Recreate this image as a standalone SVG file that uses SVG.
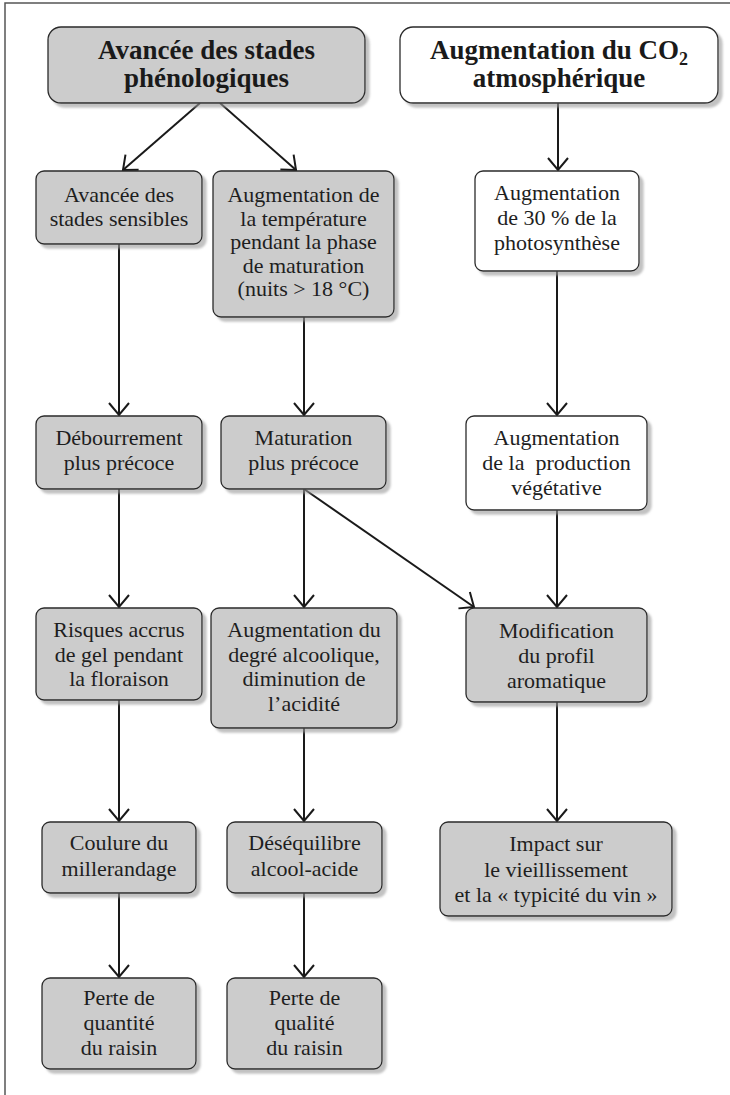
<svg xmlns="http://www.w3.org/2000/svg" width="730" height="1095" viewBox="0 0 730 1095">
<style>
  .box { stroke: #2a2a2a; stroke-width: 1.3; filter: url(#sh); }
  .gray { fill: #cccccc; }
  .white { fill: #ffffff; }
  text { font-family: 'Liberation Serif', 'DejaVu Serif', 'Times New Roman', serif; }
  .t { font-size: 22px; fill: #1e1e1e; text-anchor: middle; }
  .h { font-size: 27px; font-weight: bold; fill: #1a1a1a; text-anchor: middle; }
  .c { stroke: #1a1a1a; stroke-width: 2; fill: none; marker-end: url(#ah); }
</style>
<defs>
  <filter id="sh" x="-10%" y="-10%" width="130%" height="130%">
    <feDropShadow dx="4" dy="4" stdDeviation="1.2" flood-color="#9a9a9a" flood-opacity="0.6"/>
  </filter>
  <marker id="ah" markerUnits="userSpaceOnUse" orient="auto" refX="0" refY="0" markerWidth="30" markerHeight="30" viewBox="-15 -15 30 30" overflow="visible">
    <path d="M-12,-10 L0,0 L-12,10" fill="none" stroke="#1a1a1a" stroke-width="2"/>
  </marker>
</defs>
<rect width="730" height="1095" fill="#ffffff"/>
<path d="M5,1095 V3 H730" fill="none" stroke="#555" stroke-width="1.5"/>

<g id="connectors">
  <line class="c" x1="200" y1="103" x2="123" y2="170"/>
  <line class="c" x1="220" y1="103" x2="296" y2="170"/>
  <line class="c" x1="558" y1="103" x2="558" y2="170"/>
  <line class="c" x1="119" y1="244" x2="119" y2="415"/>
  <line class="c" x1="304" y1="317" x2="304" y2="415"/>
  <line class="c" x1="557" y1="271" x2="557" y2="415"/>
  <line class="c" x1="119" y1="489" x2="119" y2="607"/>
  <line class="c" x1="304" y1="489" x2="304" y2="607"/>
  <line class="c" x1="304" y1="489" x2="474" y2="607"/>
  <line class="c" x1="557" y1="510" x2="557" y2="607"/>
  <line class="c" x1="119" y1="700" x2="119" y2="821"/>
  <line class="c" x1="304" y1="728" x2="304" y2="821"/>
  <line class="c" x1="557" y1="702" x2="557" y2="821"/>
  <line class="c" x1="119" y1="893" x2="119" y2="977"/>
  <line class="c" x1="304" y1="893" x2="304" y2="977"/>
</g>

<g id="h1" font-family="Liberation Serif, DejaVu Serif, serif">
  <rect class="box gray" x="48" y="27" width="317" height="76" rx="13"/>
  <text class="h" x="206.5" y="59" font-family="Liberation Serif, DejaVu Serif, serif">Avancée des stades</text>
  <text class="h" x="206.5" y="87" font-family="Liberation Serif, DejaVu Serif, serif">phénologiques</text>
</g>
<g id="h2">
  <rect class="box white" x="400" y="27" width="318" height="76" rx="13"/>
  <text class="h" x="559" y="59" font-family="Liberation Serif, DejaVu Serif, serif">Augmentation du CO<tspan font-size="18" dy="6">2</tspan></text>
  <text class="h" x="559" y="87" font-family="Liberation Serif, DejaVu Serif, serif">atmosphérique</text>
</g>
<g id="n1">
  <rect class="box gray" x="36" y="171" width="166" height="73" rx="8"/>
  <text class="t" x="119" y="202">Avancée des</text>
  <text class="t" x="119" y="226">stades sensibles</text>
</g>
<g id="n2">
  <rect class="box gray" x="213" y="171" width="181" height="146" rx="8"/>
  <text class="t" x="303.5" y="202">Augmentation de</text>
  <text class="t" x="303.5" y="225.5">la température</text>
  <text class="t" x="303.5" y="249">pendant la phase</text>
  <text class="t" x="303.5" y="272.5">de maturation</text>
  <text class="t" x="303.5" y="296">(nuits &gt; 18 °C)</text>
</g>
<g id="n3">
  <rect class="box white" x="475" y="171" width="164" height="100" rx="8"/>
  <text class="t" x="557" y="200">Augmentation</text>
  <text class="t" x="557" y="225">de 30 % de la</text>
  <text class="t" x="557" y="250">photosynthèse</text>
</g>
<g id="n4">
  <rect class="box gray" x="36" y="416" width="166" height="73" rx="8"/>
  <text class="t" x="119" y="445">Débourrement</text>
  <text class="t" x="119" y="470">plus précoce</text>
</g>
<g id="n5">
  <rect class="box gray" x="221" y="416" width="165" height="73" rx="8"/>
  <text class="t" x="303.5" y="445">Maturation</text>
  <text class="t" x="303.5" y="470">plus précoce</text>
</g>
<g id="n6">
  <rect class="box white" x="466" y="416" width="181" height="94" rx="8"/>
  <text class="t" x="556.5" y="445">Augmentation</text>
  <text class="t" x="556.5" y="470">de la&#160; production</text>
  <text class="t" x="556.5" y="495">végétative</text>
</g>
<g id="n7">
  <rect class="box gray" x="36" y="608" width="166" height="92" rx="8"/>
  <text class="t" x="119" y="637">Risques accrus</text>
  <text class="t" x="119" y="662">de gel pendant</text>
  <text class="t" x="119" y="686">la floraison</text>
</g>
<g id="n8">
  <rect class="box gray" x="211" y="608" width="186" height="120" rx="8"/>
  <text class="t" x="304" y="637">Augmentation du</text>
  <text class="t" x="304" y="662">degré alcoolique,</text>
  <text class="t" x="304" y="686">diminution de</text>
  <text class="t" x="304" y="711">l’acidité</text>
</g>
<g id="n9">
  <rect class="box gray" x="466" y="608" width="181" height="94" rx="8"/>
  <text class="t" x="556.5" y="638">Modification</text>
  <text class="t" x="556.5" y="663">du profil</text>
  <text class="t" x="556.5" y="688">aromatique</text>
</g>
<g id="n10">
  <rect class="box gray" x="42" y="822" width="154" height="71" rx="8"/>
  <text class="t" x="119" y="850">Coulure du</text>
  <text class="t" x="119" y="876">millerandage</text>
</g>
<g id="n11">
  <rect class="box gray" x="227" y="822" width="155" height="71" rx="8"/>
  <text class="t" x="304.5" y="850">Déséquilibre</text>
  <text class="t" x="304.5" y="876">alcool-acide</text>
</g>
<g id="n12">
  <rect class="box gray" x="440" y="822" width="232" height="94" rx="8"/>
  <text class="t" x="556" y="851">Impact sur</text>
  <text class="t" x="556" y="877">le vieillissement</text>
  <text class="t" x="556" y="902">et la « typicité du vin »</text>
</g>
<g id="n13">
  <rect class="box gray" x="42" y="978" width="154" height="91" rx="8"/>
  <text class="t" x="119" y="1005">Perte de</text>
  <text class="t" x="119" y="1030">quantité</text>
  <text class="t" x="119" y="1055">du raisin</text>
</g>
<g id="n14">
  <rect class="box gray" x="227" y="978" width="155" height="91" rx="8"/>
  <text class="t" x="304.5" y="1005">Perte de</text>
  <text class="t" x="304.5" y="1030">qualité</text>
  <text class="t" x="304.5" y="1055">du raisin</text>
</g>
</svg>
